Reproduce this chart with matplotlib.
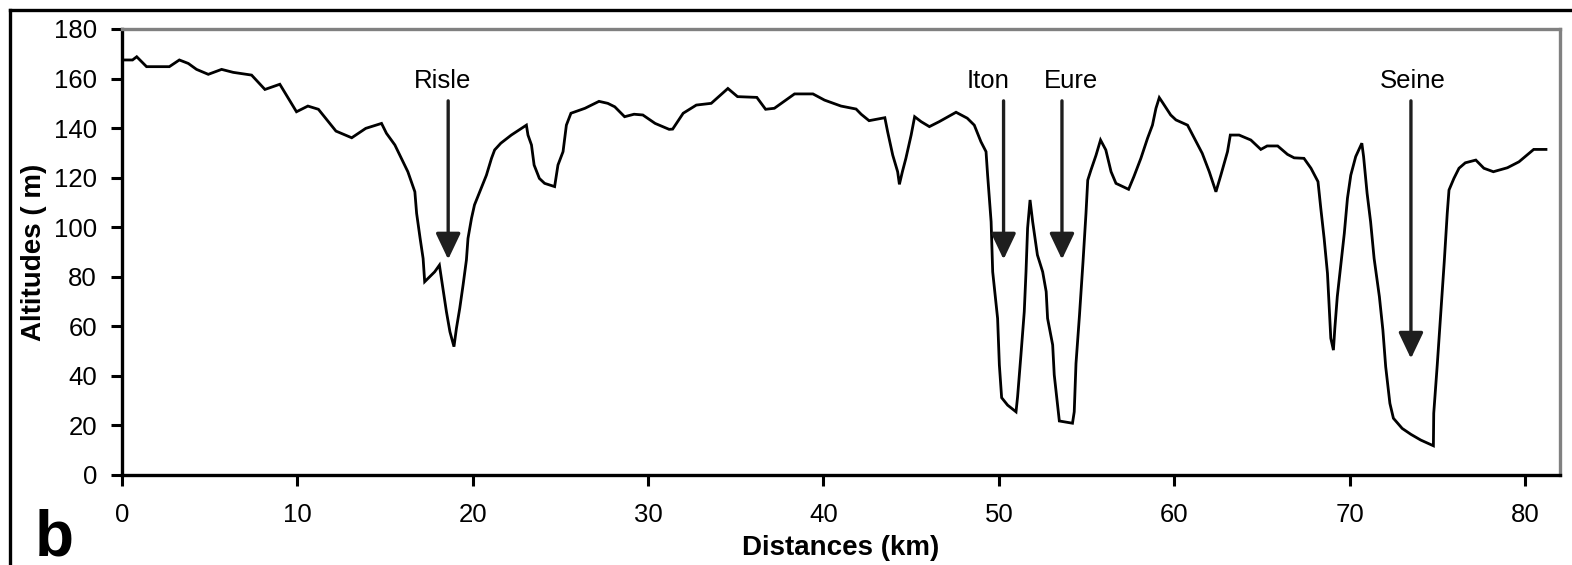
import matplotlib
matplotlib.use("Agg")
import matplotlib.pyplot as plt
from matplotlib.lines import Line2D

plt.rcParams['font.family'] = ['Liberation Sans', 'DejaVu Sans']

# Longitudinal elevation profile (distance in km, altitude in m)
distance_km = [
    0.0, 0.6, 0.84, 1.4, 2.7, 3.27, 3.78, 4.25, 4.92, 5.68, 6.34, 7.39, 8.15, 9.0,
    9.95, 10.6, 11.2, 12.2, 13.1, 13.9, 14.8, 15.08, 15.56, 16.3, 16.7, 16.8, 17.0,
    17.17, 17.26, 17.83, 18.1, 18.3, 18.5, 18.7, 18.93, 19.07, 19.26, 19.45, 19.64,
    19.73, 19.93, 20.1, 20.4, 20.78, 21.07, 21.25, 21.6, 22.2, 23.06, 23.15, 23.35,
    23.5, 23.8, 24.1, 24.67, 24.86, 25.15, 25.34, 25.6, 26.4, 27.2, 27.7, 28.1,
    28.66, 29.2, 29.7, 30.4, 31.2, 31.4, 32.0, 32.75, 33.6, 34.55, 35.1, 36.2, 36.7,
    37.2, 38.35, 39.4, 40.06, 41.0, 41.86, 42.15, 42.6, 43.5, 43.66, 43.95, 44.23,
    44.33, 44.5, 44.7, 45.0, 45.2, 45.57, 46.04, 46.6, 47.56, 48.2, 48.6, 48.98,
    49.27, 49.36, 49.56, 49.65, 49.93, 50.03, 50.16, 50.5, 50.98, 51.07, 51.26,
    51.45, 51.55, 51.64, 51.78, 51.93, 52.2, 52.5, 52.7, 52.78, 53.07, 53.16, 53.35,
    53.45, 54.2, 54.3, 54.4, 54.6, 54.8, 54.97, 55.07, 55.25, 55.54, 55.8, 56.1,
    56.4, 56.68, 57.4, 57.7, 58.1, 58.48, 58.76, 58.96, 59.15, 59.33, 59.8, 60.1,
    60.76, 61.2, 61.6, 62.0, 62.38, 62.66, 63.04, 63.2, 63.7, 64.37, 64.94, 65.3,
    65.9, 66.46, 66.84, 67.4, 67.8, 68.2, 68.36, 68.55, 68.74, 68.83, 68.93, 69.08,
    69.16, 69.3, 69.5, 69.7, 69.88, 70.07, 70.35, 70.7, 70.8, 71.0, 71.2, 71.4,
    71.7, 71.9, 72.06, 72.3, 72.5, 73.0, 73.5, 74.06, 74.78, 74.8, 75.0, 75.2, 75.4,
    75.57, 75.67, 75.95, 76.24, 76.6, 77.2, 77.66, 78.2, 79.0, 79.66, 80.5, 81.2,
]
altitude_m = [
    167.5, 167.5, 168.8, 164.8, 164.8, 167.5, 166.1, 163.7, 161.7, 163.7, 162.5,
    161.4, 155.6, 157.7, 146.6, 148.9, 147.6, 138.8, 136.1, 139.9, 141.9, 137.9,
    133.2, 122.4, 114.3, 105.6, 95.5, 87.4, 78.0, 82.0, 84.7, 75.3, 65.9, 57.8,
    51.8, 59.2, 67.3, 76.7, 86.8, 95.5, 103.6, 109.0, 114.3, 121.0, 127.8, 131.2,
    133.9, 137.2, 141.2, 137.2, 133.2, 125.1, 119.7, 117.7, 116.4, 125.1, 130.5,
    141.2, 146.0, 148.0, 150.8, 150.0, 148.6, 144.6, 145.6, 145.3, 141.9, 139.5,
    139.6, 146.0, 149.3, 150.0, 156.0, 152.7, 152.4, 147.6, 148.0, 153.8, 153.8,
    151.3, 148.9, 147.7, 145.6, 143.0, 144.2, 138.5, 129.1, 122.4, 117.3, 122.4,
    127.8, 137.2, 144.6, 142.6, 140.6, 142.6, 146.4, 144.0, 141.2, 134.5, 130.5,
    121.1, 102.2, 82.0, 63.2, 44.4, 31.2, 28.2, 25.5, 31.6, 48.4, 65.9, 82.0,
    99.6, 111.0, 102.2, 88.8, 82.0, 74.0, 63.2, 52.5, 40.4, 28.2, 21.8, 20.9,
    25.5, 45.0, 64.6, 86.0, 105.6, 119.0, 123.0, 129.0, 135.2, 131.2, 122.4,
    117.7, 115.3, 120.4, 127.8, 135.9, 141.2, 148.0, 152.3, 150.4, 145.3, 143.3,
    141.2, 135.2, 129.8, 122.4, 114.3, 121.0, 130.5, 137.2, 137.2, 135.2, 131.4,
    132.8, 132.8, 129.4, 128.0, 127.8, 123.8, 118.4, 107.6, 95.5, 81.4, 68.6,
    55.2, 50.4, 59.2, 72.0, 84.7, 97.5, 111.7, 121.0, 128.5, 133.9, 128.5, 113.7,
    102.2, 87.4, 72.0, 58.5, 43.7, 28.9, 22.9, 18.8, 16.4, 14.1, 11.8, 24.9,
    44.4, 65.3, 86.1, 105.6, 115.0, 119.7, 123.8, 126.0, 127.1, 123.8, 122.4,
    124.0, 126.4, 131.4, 131.4,
]

# River crossings: label, arrow x (km), arrow tip altitude (m)
rivers = ["Risle", "Iton", "Eure", "Seine"]
river_km = [18.6, 50.27, 53.6, 73.5]
river_tip_m = [87.0, 87.0, 87.0, 47.0]
river_label_km = [18.3, 49.4, 54.1, 73.6]

x_ticks = [0, 10, 20, 30, 40, 50, 60, 70, 80]
y_ticks = [0, 20, 40, 60, 80, 100, 120, 140, 160, 180]

fig = plt.figure(figsize=(15.72, 5.65), dpi=100)
ax = fig.add_axes([122 / 1572, 90 / 565, (1560 - 122) / 1572, (475 - 29) / 565])

ax.plot(distance_km, altitude_m, color='black', lw=2.0, solid_joinstyle='miter')

arrow_top_m = 151.0
label_y_m = 159.0
for name, xa, tip, xl in zip(rivers, river_km, river_tip_m, river_label_km):
    ax.annotate('', xy=(xa, tip), xytext=(xa, arrow_top_m),
                arrowprops=dict(arrowstyle='-|>,head_length=0.8,head_width=0.38',
                                mutation_scale=20, color='#1e1e1e', lw=2.4,
                                shrinkA=0, shrinkB=0))
    ax.text(xl, label_y_m, name, ha='center', va='center', fontsize=18.5,
            color='black')

ax.set_xlim(0, 82)
ax.set_ylim(0, 180)
ax.set_xticks(x_ticks)
ax.set_yticks(y_ticks)
ax.set_xticklabels([str(v) for v in x_ticks])
ax.set_yticklabels([str(v) for v in y_ticks])
ax.tick_params(axis='both', direction='out', length=8, width=2.2, labelsize=18.5,
               color='black', labelcolor='black')
ax.tick_params(axis='x', pad=12)
ax.tick_params(axis='y', pad=10)

for side in ('left', 'bottom'):
    ax.spines[side].set_color('black')
    ax.spines[side].set_linewidth(2.4)
for side in ('top', 'right'):
    ax.spines[side].set_color('#808080')
    ax.spines[side].set_linewidth(2.4)

ax.set_xlabel('Distances (km)', fontsize=20, fontweight='bold', labelpad=6)
ax.set_ylabel('Altitudes ( m)', fontsize=20, fontweight='bold', labelpad=5)

# Panel letter and outer frame
fig.text(35 / 1572, 1 - 555 / 565, 'b', fontsize=46, fontweight='bold',
         ha='left', va='baseline')
fig.add_artist(Line2D([10 / 1572, 10 / 1572], [0, 1 - 9.5 / 565],
                      transform=fig.transFigure, color='black', lw=2.4))
fig.add_artist(Line2D([10 / 1572, 1], [1 - 9.5 / 565, 1 - 9.5 / 565],
                      transform=fig.transFigure, color='black', lw=2.4))

fig.savefig('out.png', dpi=100)
